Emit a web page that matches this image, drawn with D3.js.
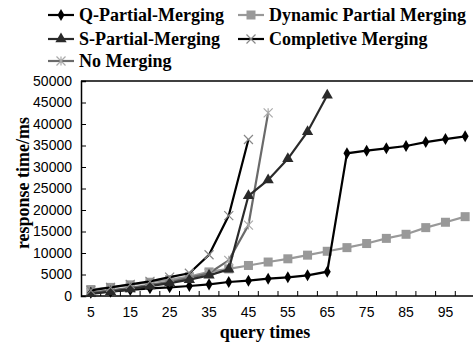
<!DOCTYPE html>
<html><head><meta charset="utf-8">
<script src="https://cdn.jsdelivr.net/npm/d3@7"></script>
<style>body{margin:0;background:#fff}svg{display:block}
.serif{font-family:"Liberation Serif","Times New Roman",serif;font-weight:bold;font-size:18px}
.sans{font-family:"Liberation Sans",Arial,sans-serif;font-size:14px}
</style>
</head><body>
<svg id="c" width="473" height="344"></svg>
<script>
const categories = [5,10,15,20,25,30,35,40,45,50,55,60,65,70,75,80,85,90,95,100];
const xTickLabels = [5,15,25,35,45,55,65,75,85,95];
const yTicks = [0,5000,10000,15000,20000,25000,30000,35000,40000,45000,50000];
const qPartial = [770,1000,1400,1790,2020,2330,2710,3260,3560,4030,4340,4810,5650,33180,33800,34340,34880,35800,36500,37130];
const dynamicPartial = [1500,2000,2600,3200,3800,4500,5600,6300,7100,7900,8650,9500,10400,11250,12200,13400,14350,15900,17150,18450];
const sPartial = [500,1000,1600,2300,3000,3800,4800,6200,23300,27000,31900,38200,46700];
const noMerging = [800,1300,1900,2600,3300,4200,5300,8300,16500,42600];
const completive = [1300,2000,2700,3400,4400,5300,9600,18700,36400];
const seriesNames = ["Q-Partial-Merging","Dynamic Partial Merging","S-Partial-Merging","Completive Merging","No Merging"];

const svg = d3.select("#c");
const L = 81, T = 81, B = 296, R = 81 + 20*19.7;
const x = d3.scaleBand().domain(categories).range([L, R]).padding(0);
const y = d3.scaleLinear().domain([0,50000]).range([B, T]);
const cx = d => x(d) + x.bandwidth()/2;

svg.append("line").attr("x1",L).attr("x2",R).attr("y1",T).attr("y2",T).attr("stroke","#000").attr("stroke-width",1.5);

const yAxis = d3.axisLeft(y).tickValues(yTicks).tickSize(-5).tickPadding(9).tickFormat(d3.format("d"));
const gy = svg.append("g").attr("transform",`translate(${L},0)`).call(yAxis);
gy.attr("font-family",null).attr("font-size",null);
gy.select(".domain").attr("stroke","#000").attr("stroke-width",1.5);
gy.selectAll(".tick line").attr("stroke","#000").attr("stroke-width",1);
gy.selectAll("text").attr("class","sans").attr("fill","#000");

const gx = svg.append("g").attr("transform",`translate(0,${B})`);
gx.append("line").attr("x1",L).attr("x2",R).attr("stroke","#000").attr("stroke-width",1.5);
categories.slice(1).forEach(c => {
  gx.append("line").attr("x1",x(c)).attr("x2",x(c)).attr("y1",0).attr("y2",-5).attr("stroke","#000");
});
xTickLabels.forEach(c => {
  gx.append("text").attr("class","sans").attr("x",cx(c)).attr("y",21).attr("text-anchor","middle").text(c);
});

svg.append("text").attr("class","serif").attr("x",265).attr("y",338).attr("text-anchor","middle").text("query times");
svg.append("text").attr("class","serif").attr("transform","translate(29,183) rotate(-90)").attr("text-anchor","middle").text("response time/ms");

const line = d3.line().x((d,i)=>cx(categories[i])).y(d=>y(d));

const styles = {
  "Q-Partial-Merging": {data:qPartial, stroke:"#000", mk:"diamond", fill:"#000"},
  "Dynamic Partial Merging": {data:dynamicPartial, stroke:"#999", mk:"square", fill:"#999"},
  "S-Partial-Merging": {data:sPartial, stroke:"#2a2a2a", mk:"triangle", fill:"#2a2a2a"},
  "No Merging": {data:noMerging, stroke:"#6a6a6a", mk:"star", fill:"#aaa"},
  "Completive Merging": {data:completive, stroke:"#000", mk:"x", fill:"#888"}
};

function marker(g, type, px, py, fill){
  if(type==="diamond"){
    g.append("path").attr("d",d3.symbol(d3.symbolDiamond,42)()).attr("transform",`translate(${px},${py})`).attr("fill",fill);
  } else if(type==="square"){
    g.append("rect").attr("x",px-4.5).attr("y",py-4.5).attr("width",9).attr("height",9).attr("fill",fill);
  } else if(type==="triangle"){
    g.append("path").attr("d",d3.symbol(d3.symbolTriangle,55)()).attr("transform",`translate(${px},${py})`).attr("fill",fill);
  } else if(type==="x"){
    const s=4.5;
    g.append("path").attr("d",`M${px-s},${py-s}L${px+s},${py+s}M${px-s},${py+s}L${px+s},${py-s}`).attr("stroke",fill).attr("stroke-width",1.2).attr("fill","none");
  } else if(type==="star"){
    const s=4.5;
    g.append("path").attr("d",`M${px-s},${py-s}L${px+s},${py+s}M${px-s},${py+s}L${px+s},${py-s}M${px},${py-s}L${px},${py+s}`).attr("stroke",fill).attr("stroke-width",1.2).attr("fill","none");
  }
}

const order = ["Dynamic Partial Merging","Q-Partial-Merging","No Merging","S-Partial-Merging","Completive Merging"];
order.forEach(n => {
  const s = styles[n];
  const g = svg.append("g");
  g.append("path").datum(s.data).attr("d",line).attr("fill","none").attr("stroke",s.stroke).attr("stroke-width",2.2);
  s.data.forEach((v,i)=>marker(g, s.mk, cx(categories[i]), y(v), s.fill));
});

const legendPos = {
  "Q-Partial-Merging":[48,15],
  "S-Partial-Merging":[48,39],
  "No Merging":[48,61],
  "Dynamic Partial Merging":[238,15],
  "Completive Merging":[238,39]
};
seriesNames.forEach(n=>{
  const s = styles[n]; const [lx,ly] = legendPos[n];
  const g = svg.append("g");
  g.append("line").attr("x1",lx).attr("x2",lx+26).attr("y1",ly).attr("y2",ly).attr("stroke",s.stroke).attr("stroke-width",2.2);
  marker(g, s.mk, lx+13, ly, s.fill);
  g.append("text").attr("class","serif").attr("x",lx+31).attr("y",ly+6).text(n);
});
</script>
</body></html>
